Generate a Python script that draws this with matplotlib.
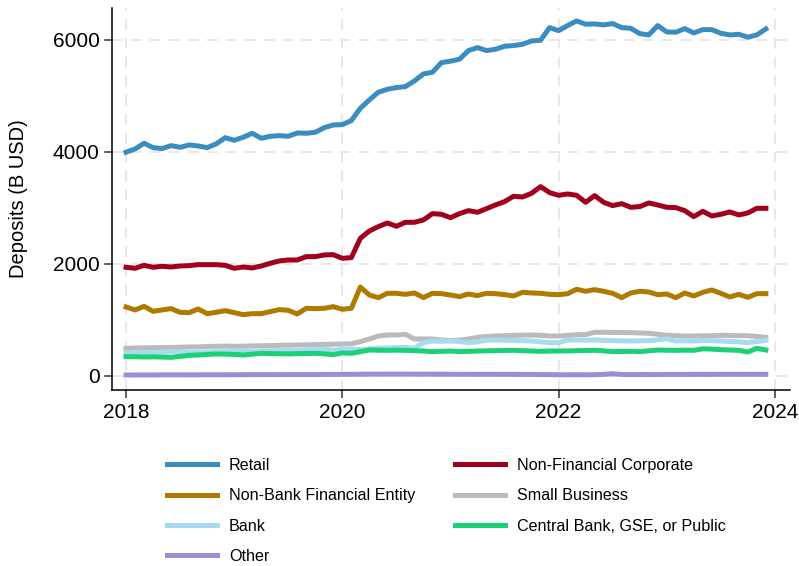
import matplotlib
matplotlib.use("Agg")
import matplotlib.pyplot as plt
import numpy as np

plt.rcParams['font.family'] = ['Liberation Sans', 'DejaVu Sans']

# Monthly deposits by depositor type, Jan 2018 - Dec 2023 (billions USD)
retail = [
    3995, 4054, 4155, 4077, 4060, 4113, 4083, 4125, 4107, 4077, 4143, 4255,
    4208, 4262, 4333, 4244, 4280, 4291, 4280, 4339, 4333, 4351, 4434, 4482,
    4488, 4560, 4780, 4929, 5066, 5119, 5149, 5167, 5268, 5393, 5423, 5595,
    5620, 5655, 5810, 5863, 5810, 5833, 5887, 5899, 5923, 5982, 5994, 6220,
    6166, 6256, 6339, 6280, 6286, 6268, 6292, 6220, 6208, 6113, 6089, 6256,
    6143, 6137, 6202, 6125, 6184, 6184, 6119, 6089, 6101, 6048, 6089, 6196]
non_fin_corp = [
    1941, 1923, 1976, 1941, 1959, 1946, 1964, 1970, 1988, 1988, 1988, 1976,
    1923, 1946, 1929, 1964, 2012, 2054, 2071, 2071, 2131, 2131, 2161, 2166,
    2101, 2113, 2458, 2589, 2667, 2732, 2673, 2744, 2744, 2786, 2899, 2887,
    2827, 2899, 2952, 2923, 2988, 3054, 3113, 3208, 3196, 3262, 3381, 3274,
    3226, 3250, 3226, 3101, 3220, 3101, 3042, 3077, 3012, 3024, 3089, 3054,
    3012, 3006, 2952, 2845, 2940, 2857, 2887, 2929, 2875, 2911, 2994, 2994]
non_bank_fin = [
    1232, 1179, 1244, 1155, 1179, 1203, 1137, 1131, 1196, 1113, 1137, 1167,
    1131, 1095, 1113, 1113, 1149, 1185, 1173, 1107, 1209, 1203, 1209, 1238,
    1191, 1209, 1589, 1446, 1399, 1476, 1476, 1458, 1482, 1399, 1476, 1470,
    1446, 1417, 1464, 1435, 1476, 1470, 1452, 1429, 1494, 1482, 1476, 1458,
    1452, 1470, 1548, 1512, 1542, 1512, 1476, 1399, 1482, 1512, 1500, 1452,
    1464, 1399, 1482, 1429, 1494, 1536, 1476, 1411, 1458, 1405, 1470, 1470]
small_business = [
    494, 500, 502, 505, 508, 510, 514, 518, 520, 526, 530, 534,
    530, 532, 538, 540, 542, 548, 550, 554, 556, 560, 565, 568,
    571, 575, 613, 661, 714, 732, 732, 744, 661, 661, 661, 643,
    631, 640, 660, 690, 705, 714, 720, 725, 728, 732, 725, 714,
    714, 725, 738, 740, 780, 780, 778, 776, 774, 768, 762, 745,
    726, 720, 714, 714, 716, 720, 726, 722, 720, 720, 705, 690]
bank = [
    417, 420, 415, 420, 425, 435, 430, 420, 425, 430, 435, 445,
    446, 440, 445, 448, 450, 455, 455, 460, 465, 470, 476, 460,
    476, 480, 470, 485, 494, 500, 505, 512, 494, 595, 625, 620,
    625, 615, 595, 610, 643, 643, 640, 637, 630, 625, 610, 595,
    595, 643, 643, 640, 643, 637, 631, 628, 625, 628, 631, 645,
    661, 625, 628, 625, 631, 630, 625, 615, 610, 595, 615, 637]
central_public = [
    345, 343, 340, 342, 338, 333, 350, 369, 375, 385, 393, 390,
    385, 375, 390, 405, 400, 398, 395, 399, 402, 405, 395, 381,
    411, 405, 435, 464, 460, 458, 462, 458, 452, 446, 435, 440,
    446, 435, 440, 445, 450, 452, 455, 458, 452, 446, 440, 446,
    446, 448, 452, 455, 458, 450, 435, 438, 440, 435, 450, 464,
    460, 458, 462, 458, 485, 480, 470, 464, 458, 429, 494, 464]
other = [
    18, 18, 19, 19, 20, 20, 20, 21, 21, 22, 22, 22,
    23, 23, 24, 24, 25, 25, 26, 26, 27, 27, 28, 28,
    29, 30, 32, 33, 33, 34, 34, 34, 33, 33, 32, 32,
    31, 31, 30, 30, 30, 30, 29, 29, 28, 28, 27, 25,
    22, 22, 23, 22, 22, 30, 40, 28, 26, 26, 27, 27,
    28, 28, 28, 29, 29, 29, 30, 30, 30, 30, 30, 30]

dates = 2018 + np.arange(len(retail)) / 12

series = [
    ("Retail", retail, "#3a8dbe"),
    ("Non-Financial Corporate", non_fin_corp, "#a0001d"),
    ("Non-Bank Financial Entity", non_bank_fin, "#b07a00"),
    ("Small Business", small_business, "#bbbbbb"),
    ("Bank", bank, "#a8dbf0"),
    ("Central Bank, GSE, or Public", central_public, "#1ccf79"),
    ("Other", other, "#9a8fd6"),
]

fig = plt.figure(figsize=(7.99, 5.66), dpi=100)
ax = fig.add_axes([112 / 799, 1 - 390 / 566, 678 / 799, 382 / 566])

lines = {}
for name, vals, col in series:
    ln, = ax.plot(dates, vals, color=col, lw=3.6, solid_joinstyle='round', label=name)
    lines[name] = ln

ax.set_xlim(2017.87, 2024.14)
ax.set_ylim(-250, 6570)
ax.set_xticks([2018, 2020, 2022, 2024])
ax.set_yticks([0, 2000, 4000, 6000])
ax.tick_params(axis='both', labelsize=15, direction='out', length=6,
               width=1.2, color='#444444')
ax.tick_params(axis='y', pad=3)
ax.set_ylabel("Deposits (B USD)", fontsize=14.5)
ax.yaxis.set_label_coords(-0.124, 0.5)

ax.grid(True, color='#e6e6e6', lw=1.3, ls=(0, (6, 4.5)))
ax.set_axisbelow(True)
for s in ['top', 'right']:
    ax.spines[s].set_visible(False)
ax.spines['left'].set_linewidth(1.1)
ax.spines['bottom'].set_linewidth(1.1)

# legend fills column by column, so order handles to read row-wise
order = ["Retail", "Non-Bank Financial Entity", "Bank", "Other",
         "Non-Financial Corporate", "Small Business", "Central Bank, GSE, or Public"]
fig.legend([lines[n] for n in order], order, ncol=2, frameon=False,
           loc='upper left', bbox_to_anchor=(167 / 799, 1 - 458 / 566),
           fontsize=11.6, handlelength=3.1, handletextpad=0.75,
           labelspacing=0.95, columnspacing=2.45, borderpad=0, borderaxespad=0)

fig.savefig("out.png", dpi=100)
